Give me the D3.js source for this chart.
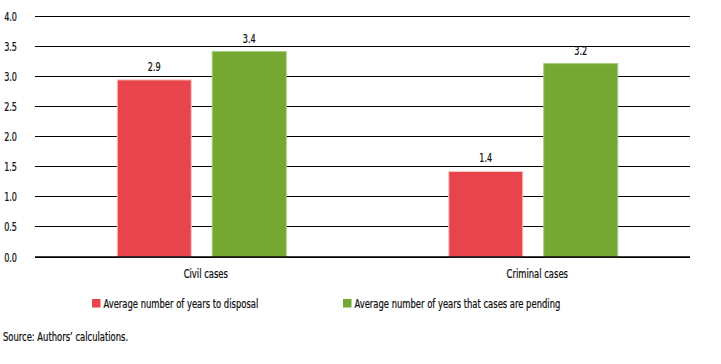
<!DOCTYPE html>
<html>
<head>
<meta charset="utf-8">
<script src="https://cdn.jsdelivr.net/npm/d3@7"></script>
<style>
body { margin: 0; background: #fff; }
svg text { font-family: "DejaVu Sans Condensed", "Liberation Sans Narrow", sans-serif; font-stretch: condensed; fill: #111; stroke: #111; stroke-width: 0.25; }
</style>
</head>
<body>
<div class="container"></div>
<script>
var categories = ["Civil cases", "Criminal cases"];
var seriesNames = ["Average number of years to disposal", "Average number of years that cases are pending"];
var disposal = [2.94, 1.42];
var pending = [3.41, 3.21];
var yTicks = [0, 0.5, 1, 1.5, 2, 2.5, 3, 3.5, 4];
var colors = ["#e8444b", "#74a832"];
var edges = ["#f6c9c6", "#a8cc7e"];

var W = 721, H = 364, SX = 0.72;
var svg = d3.select(".container").append("svg").attr("width", W).attr("height", H);

// narrow text: squeeze horizontally to mimic the condensed face
var place = function(x, y){
	return "translate(" + x + "," + y + ") scale(" + SX + ",1)";
}

var y = d3.scaleLinear().domain([0, 4]).range([257, 16]);
var x0 = d3.scaleBand().domain(categories).range([36, 699]);
var x1 = d3.scaleBand().domain([0, 1]).range([0, 170]).paddingInner(0.21);
var groupOffset = (x0.bandwidth() - 170) / 2;

// grid
svg.append("g").selectAll("line").data(yTicks).join("line")
	.attr("x1", 35).attr("x2", 690)
	.attr("y1", function(d){ return y(d); }).attr("y2", function(d){ return y(d); })
	.attr("stroke", "#000").attr("stroke-width", 1)
	.attr("shape-rendering", "crispEdges");

svg.append("g").selectAll("text").data(yTicks).join("text")
	.attr("transform", function(d){ return place(17, y(d) + 4.5); })
	.attr("text-anchor", "end").attr("font-size", 12.5)
	.text(d3.format(".1f"));

var series = [disposal, pending];
var fmt = d3.format(".1f");
series.forEach(function(vals, s){
	var g = svg.append("g");
	g.selectAll("rect").data(vals).join("rect")
		.attr("x", function(d, i){ return x0(categories[i]) + groupOffset + x1(s) + 0.5; })
		.attr("width", x1.bandwidth() - 1)
		.attr("y", function(d){ return y(d); })
		.attr("height", function(d){ return y(0) - y(d); })
		.attr("fill", colors[s]).attr("stroke", edges[s]).attr("stroke-width", 1);
	g.selectAll("text").data(vals).join("text")
		.attr("transform", function(d, i){
			return place(x0(categories[i]) + groupOffset + x1(s) + x1.bandwidth() / 2, y(d) - 9);
		})
		.attr("text-anchor", "middle").attr("font-size", 12.5)
		.text(fmt);
});

svg.append("line").attr("x1", 35).attr("x2", 690).attr("y1", y(0)).attr("y2", y(0))
	.attr("stroke", "#000").attr("stroke-width", 1.5);

svg.append("g").selectAll("text").data(categories).join("text")
	.attr("transform", function(d){ return place(x0(d) + x0.bandwidth() / 2 + 4, 278); })
	.attr("text-anchor", "middle").attr("font-size", 13)
	.text(function(d){ return d; });

var legendX = [92, 343];
var lg = svg.append("g").selectAll("g").data(seriesNames).join("g")
	.attr("transform", function(d, i){ return "translate(" + legendX[i] + ",299)"; });
lg.append("rect").attr("width", 8.5).attr("height", 8.5).attr("fill", function(d, i){ return colors[i]; });
lg.append("text").attr("transform", place(11.5, 9)).attr("font-size", 13).text(function(d){ return d; });

svg.append("text").attr("transform", place(3, 341)).attr("font-size", 13)
	.text("Source: Authors\u2019 calculations.");
</script>
</body>
</html>
